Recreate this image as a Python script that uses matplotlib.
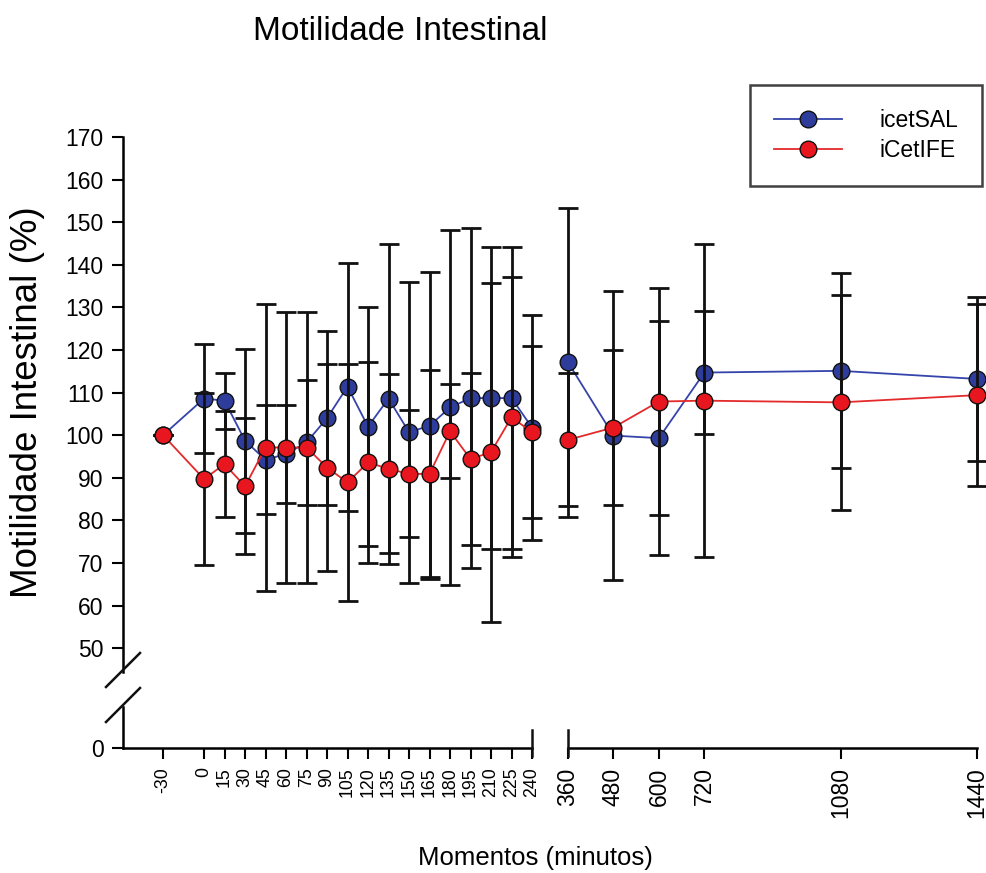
import numpy as np
import matplotlib
matplotlib.use('Agg')
import matplotlib.pyplot as plt
from matplotlib.lines import Line2D

plt.rcParams['font.family'] = ['Liberation Sans', 'DejaVu Sans']

# data (minutes, % motility, +/- error)
momentos = [-30, 0, 15, 30, 45, 60, 75, 90, 105, 120, 135, 150, 165, 180,
            195, 210, 225, 240, 360, 480, 600, 720, 1080, 1440]
sal_mean = [100, 108.6, 108.1, 98.7, 94.2, 95.6, 98.3, 104.0, 111.4, 102.0,
            108.6, 100.7, 102.2, 106.5, 108.7, 108.7, 108.7, 101.8, 117.1,
            99.9, 99.3, 114.7, 115.1, 113.2]
sal_err = [0, 12.9, 6.6, 21.6, 12.8, 11.6, 14.6, 20.4, 29.1, 28.0, 36.2,
           35.3, 36.0, 41.6, 40.0, 35.5, 35.5, 26.5, 36.3, 33.9, 27.5, 14.5,
           22.9, 19.2]
ife_mean = [100, 89.7, 93.2, 88.0, 97.1, 97.1, 97.1, 92.4, 88.9, 93.6, 92.1,
            90.9, 90.9, 100.9, 94.4, 96.0, 104.2, 100.7, 98.9, 101.8, 107.9,
            108.1, 107.7, 109.4]
ife_err = [0, 20.2, 12.4, 16.0, 33.6, 31.9, 31.9, 24.4, 27.8, 23.5, 22.3,
           14.9, 24.3, 11.0, 20.2, 39.8, 32.9, 20.2, 15.6, 18.3, 26.7, 36.7,
           25.3, 21.3]

ticks_left = [-30, 0, 15, 30, 45, 60, 75, 90, 105, 120, 135, 150, 165, 180,
              195, 210, 225, 240]
ticks_right = [360, 480, 600, 720, 1080, 1440]
yticks = list(range(50, 171, 10))

W, H = 987, 873


def box(l, t, r, b):
    return [l / W, 1 - b / H, (r - l) / W, (b - t) / H]


fig = plt.figure(figsize=(W / 100, H / 100), dpi=100)
ax_ul = fig.add_axes(box(123, 137, 532, 672))
ax_ur = fig.add_axes(box(568, 137, 977, 672))
ax_ll = fig.add_axes(box(123, 707, 532, 748))
ax_lr = fig.add_axes(box(568, 707, 977, 748))

x = np.array(momentos)
series = [
    (np.array(sal_mean), np.array(sal_err), '#2e3d9c', '#3444aa', 'icetSAL'),
    (np.array(ife_mean), np.array(ife_err), '#e8161e', '#e42a2a', 'iCetIFE'),
]

for ax, mask, xlim in [(ax_ul, x <= 240, (-59.3, 240)),
                       (ax_ur, x >= 360, (360, 1440))]:
    z = 2
    for mean, err, fc, lc, name in series:
        ax.errorbar(x[mask], mean[mask], yerr=err[mask], fmt='none',
                    ecolor='#111111', elinewidth=2.0, capsize=7, capthick=2.0,
                    zorder=z, clip_on=False)
        ax.plot(x[mask], mean[mask], '-', color=lc, lw=1.3, zorder=z + 1,
                clip_on=False)
        ax.plot(x[mask], mean[mask], 'o', ms=12, mfc=fc, mec='#111111',
                mew=1.0, zorder=z + 1, clip_on=False)
        z += 2
    ax.set_xlim(*xlim)
    ax.set_ylim(44.4, 170)
    ax.set_facecolor('none')
    for s in ['top', 'right', 'bottom']:
        ax.spines[s].set_visible(False)
    ax.tick_params(bottom=False, labelbottom=False)

ax_ul.spines['left'].set_linewidth(1.8)
ax_ul.set_yticks(yticks)
ax_ul.tick_params(axis='y', direction='out', length=8, width=1.5,
                  labelsize=16.5, pad=6)
ax_ur.spines['left'].set_visible(False)
ax_ur.tick_params(left=False, labelleft=False)

# left x labels are packed 20 px apart, so they need a smaller size
for ax, xlim, ticks, fs in [(ax_ll, (-59.3, 240), ticks_left, 12.8),
                            (ax_lr, (360, 1440), ticks_right, 16.5)]:
    ax.set_xlim(*xlim)
    ax.set_ylim(0, 9.6)
    ax.set_facecolor('none')
    ax.spines['top'].set_visible(False)
    ax.spines['right'].set_visible(False)
    ax.spines['bottom'].set_linewidth(1.8)
    ax.set_xticks(ticks)
    ax.set_xticklabels([str(t) for t in ticks], rotation=90)
    ax.tick_params(axis='x', direction='out', length=8, width=1.5,
                   labelsize=fs, pad=6)

ax_ll.spines['left'].set_linewidth(1.8)
ax_ll.set_yticks([0])
ax_ll.tick_params(axis='y', direction='out', length=8, width=1.5,
                  labelsize=16.5, pad=6)
ax_lr.spines['left'].set_visible(False)
ax_lr.tick_params(left=False, labelleft=False)

# axis break marks
def seg(x0, y0, x1, y1):
    fig.add_artist(Line2D([x0 / W, x1 / W], [1 - y0 / H, 1 - y1 / H],
                          color='#111111', lw=1.8))

seg(106, 687, 140, 653)
seg(106, 722, 140, 688)
seg(532, 730, 532, 756)
seg(568, 730, 568, 756)

fig.text(400 / W, 1 - 32 / H, 'Motilidade Intestinal', ha='center',
         va='center', fontsize=24)
fig.text(535 / W, 1 - 858 / H, 'Momentos (minutos)', ha='center',
         va='center', fontsize=18.5)
fig.text(28 / W, 1 - 402 / H, 'Motilidade Intestinal (%)', ha='center',
         va='center', rotation=90, fontsize=26.5)

handles = [Line2D([], [], color=s[3], lw=1.3, marker='o', ms=12,
                  mfc=s[2], mec='#111111', mew=1.0) for s in series]
leg = fig.legend(handles, [s[4] for s in series], loc='upper right',
                 bbox_to_anchor=(982 / W, 1 - 85 / H), fontsize=16.5,
                 frameon=True, fancybox=False, edgecolor='#111111',
                 handlelength=3.0, handletextpad=1.6, borderpad=1.05,
                 labelspacing=0.3, borderaxespad=0)
leg.get_frame().set_linewidth(1.8)

fig.savefig('out.png', dpi=100, facecolor='white')
